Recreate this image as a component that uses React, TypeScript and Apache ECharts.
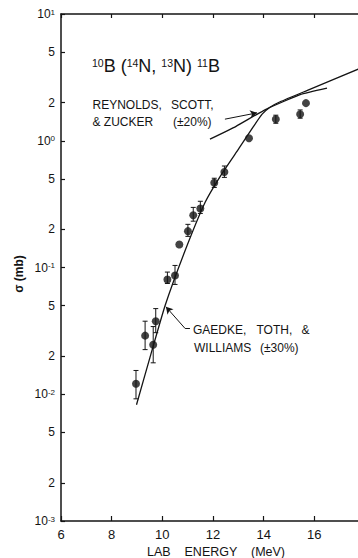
import React, { useEffect, useRef } from "react";
import * as echarts from "echarts";

// ---- data (lab energy in MeV, cross section in mb) ----
const xTickValues = [6, 8, 10, 12, 14, 16, 18];
const yDecadeExponents = [-3, -2, -1, 0, 1];
const yMinorMultipliers = [2, 5];

const energy = [8.96, 9.32, 9.64, 9.74, 10.2, 10.5, 10.67, 11.01, 11.22, 11.5, 12.05, 12.45, 13.42, 14.48, 15.44, 15.67];
const sigma = [0.0121, 0.029, 0.0246, 0.0377, 0.0803, 0.0865, 0.152, 0.1935, 0.258, 0.292, 0.467, 0.567, 1.047, 1.479, 1.62, 1.98];
const sigmaLow = [0.0092, 0.0225, 0.0177, 0.0306, 0.0748, 0.0735, 0.152, 0.176, 0.232, 0.267, 0.428, 0.514, 1.047, 1.374, 1.507, 1.98];
const sigmaHigh = [0.0154, 0.0377, 0.0342, 0.0474, 0.092, 0.1038, 0.152, 0.219, 0.298, 0.333, 0.506, 0.632, 1.047, 1.591, 1.75, 1.98];

// Gaedke, Toth & Williams calculation
const gaedkeEnergy = [8.98, 9.51, 10.11, 10.9, 11.69, 12.36, 13.03, 13.58, 13.94, 14.25, 14.65, 15.75, 17.73, 18.0];
const gaedkeSigma = [0.00826, 0.01945, 0.0501, 0.136, 0.327, 0.553, 0.873, 1.28, 1.62, 1.84, 2.03, 2.51, 3.67, 3.85];

// Reynolds, Scott & Zucker calculation
const reynoldsEnergy = [11.88, 12.91, 14.09, 15.44, 16.5];
const reynoldsSigma = [1.03, 1.3, 1.77, 2.31, 2.6];

// annotation leader lines
const gaedkeArrowEnergy = [11.09, 10.9, 10.14];
const gaedkeArrowSigma = [0.033, 0.033, 0.049];
const reynoldsArrowEnergy = [12.47, 13.74];
const reynoldsArrowSigma = [1.48, 1.66];

const lg = (v: number) => Math.log10(v);

const INK = "#141414";
const NUM_FONT = "'Liberation Sans', Arial, sans-serif";
const NOTE_FONT = "'Liberation Sans', Arial, sans-serif";

export default function App() {
  const ref = useRef<HTMLDivElement>(null);

  useEffect(() => {
    if (!ref.current) return;
    const chart = echarts.init(ref.current, null, { renderer: "svg" });

    const yTickValues: number[] = [];
    yDecadeExponents.forEach((d) => {
      yTickValues.push(d);
      if (d < yDecadeExponents[yDecadeExponents.length - 1]) {
        yMinorMultipliers.forEach((m) => yTickValues.push(d + lg(m)));
      }
    });

    const yLabel = (v: number) => {
      const d = Math.floor(v + 1e-6);
      const f = v - d;
      if (f < 0.01) return `{b|10}{e|${d}}`;
      return f < 0.5 ? "2" : "5";
    };

    const pts = energy.map((e, i) => [e, lg(sigma[i])]);
    const bars = energy.map((e, i) => [e, lg(sigmaLow[i]), lg(sigmaHigh[i])]);
    const gaedke = gaedkeEnergy.map((e, i) => [e, lg(gaedkeSigma[i])]);
    const reynolds = reynoldsEnergy.map((e, i) => [e, lg(reynoldsSigma[i])]);

    const seg = (xs: number[], ys: number[], i: number, arrow: boolean) => [
      { coord: [xs[i], lg(ys[i])], symbol: "none" },
      { coord: [xs[i + 1], lg(ys[i + 1])], symbol: arrow ? "arrow" : "none" },
    ];

    const noteText = (text: string, x: number, y: number) => ({
      type: "text",
      x,
      y,
      silent: true,
      style: {
        text,
        fill: INK,
        font: `12px ${NOTE_FONT}`,
        textAlign: "left",
        textVerticalAlign: "middle",
      },
    });

    const option: any = {
      animation: false,
      backgroundColor: "#ffffff",
      grid: { left: 61, top: 14, width: 304, height: 507, outerBoundsMode: "none" },
      xAxis: [
        {
          type: "value",
          min: 6,
          max: 18,
          interval: 2,
          position: "bottom",
          axisLine: { show: true, onZero: false, lineStyle: { color: INK, width: 1.5 } },
          axisTick: { show: true, inside: true, length: 5, customValues: xTickValues, lineStyle: { color: INK, width: 1.2 } },
          axisLabel: { show: true, customValues: xTickValues, margin: 7, color: INK, fontFamily: NUM_FONT, fontSize: 13 },
          splitLine: { show: false },
        },
        {
          type: "value",
          min: 6,
          max: 18,
          interval: 2,
          position: "top",
          axisLine: { show: true, onZero: false, lineStyle: { color: INK, width: 1.5 } },
          axisTick: { show: true, inside: true, length: 4, lineStyle: { color: INK, width: 1.2 } },
          axisLabel: { show: false },
          splitLine: { show: false },
        },
      ],
      yAxis: [
        {
          type: "value",
          min: -3,
          max: 1,
          position: "left",
          axisLine: { show: true, onZero: false, lineStyle: { color: INK, width: 1.5 } },
          axisTick: { show: true, inside: true, length: 4, customValues: yTickValues, lineStyle: { color: INK, width: 1.2 } },
          axisLabel: {
            show: true,
            customValues: yTickValues,
            margin: 6,
            color: INK,
            fontFamily: NUM_FONT,
            fontSize: 12,
            formatter: yLabel,
            rich: {
              b: { fontSize: 12, fontFamily: NUM_FONT, color: INK },
              e: { fontSize: 8, fontFamily: NUM_FONT, color: INK, verticalAlign: "top", padding: [0, 0, 4, 0] },
            },
          },
          splitLine: { show: false },
        },
        {
          type: "value",
          min: -3,
          max: 1,
          position: "right",
          axisLine: { show: true, onZero: false, lineStyle: { color: INK, width: 1.5 } },
          axisTick: { show: true, inside: true, length: 7, customValues: yTickValues, lineStyle: { color: INK, width: 1.2 } },
          axisLabel: { show: false },
          splitLine: { show: false },
        },
      ],
      series: [
        {
          name: "Gaedke, Toth & Williams",
          type: "line",
          data: gaedke,
          showSymbol: false,
          smooth: 0.15,
          lineStyle: { color: INK, width: 1.3 },
          z: 2,
          markLine: {
            silent: true,
            symbolSize: [6, 7],
            lineStyle: { color: INK, width: 1, type: "solid" },
            label: { show: false },
            emphasis: { disabled: true },
            data: [
              seg(gaedkeArrowEnergy, gaedkeArrowSigma, 0, false),
              seg(gaedkeArrowEnergy, gaedkeArrowSigma, 1, true),
              seg(reynoldsArrowEnergy, reynoldsArrowSigma, 0, true),
            ],
          },
        },
        {
          name: "Reynolds, Scott & Zucker",
          type: "line",
          data: reynolds,
          showSymbol: false,
          smooth: 0.15,
          lineStyle: { color: INK, width: 1.3 },
          z: 2,
        },
        {
          name: "error bars",
          type: "custom",
          data: bars,
          encode: { x: 0, y: [1, 2] },
          z: 3,
          renderItem: (params: any, api: any) => {
            const x = api.value(0);
            const lo = api.coord([x, api.value(1)]);
            const hi = api.coord([x, api.value(2)]);
            if (Math.abs(lo[1] - hi[1]) < 1) return { type: "group", children: [] };
            const w = 2.5;
            const st = { stroke: INK, lineWidth: 1 };
            return {
              type: "group",
              children: [
                { type: "line", shape: { x1: lo[0], y1: lo[1], x2: hi[0], y2: hi[1] }, style: st },
                { type: "line", shape: { x1: lo[0] - w, y1: lo[1], x2: lo[0] + w, y2: lo[1] }, style: st },
                { type: "line", shape: { x1: hi[0] - w, y1: hi[1], x2: hi[0] + w, y2: hi[1] }, style: st },
              ],
            };
          },
        },
        {
          name: "data",
          type: "scatter",
          data: pts,
          symbol: "circle",
          symbolSize: 8,
          itemStyle: { color: INK },
          z: 4,
        },
      ],
      graphic: [
        {
          type: "text",
          x: 92,
          y: 66,
          silent: true,
          style: {
            text: "{s|10}{m|B (}{s|14}{m|N, }{s|13}{m|N) }{s|11}{m|B}",
            textAlign: "left",
            textVerticalAlign: "middle",
            rich: {
              m: { fontSize: 18, fontFamily: NOTE_FONT, fill: INK },
              s: { fontSize: 10.5, fontFamily: NOTE_FONT, fill: INK, verticalAlign: "top" },
            },
          },
        },
        noteText("REYNOLDS,", 92.5, 105),
        noteText("SCOTT,", 171, 105),
        noteText("& ZUCKER", 92.5, 122),
        noteText("(±20%)", 173, 122),
        noteText("GAEDKE,", 193, 330),
        noteText("TOTH,", 256.5, 330),
        noteText("&", 301.5, 330),
        noteText("WILLIAMS", 194, 347.5),
        noteText("(±30%)", 260, 347.5),
        {
          type: "text",
          x: 147,
          y: 551.5,
          silent: true,
          style: {
            text: "LAB    ENERGY    (MeV)",
            fill: INK,
            font: `12.5px ${NUM_FONT}`,
            textAlign: "left",
            textVerticalAlign: "middle",
          },
        },
        {
          type: "text",
          x: 19,
          y: 274,
          rotation: Math.PI / 2,
          silent: true,
          style: {
            text: "σ (mb)",
            fill: INK,
            font: `bold 12px ${NUM_FONT}`,
            textAlign: "center",
            textVerticalAlign: "middle",
          },
        },
      ],
    };

    chart.setOption(option);
    return () => chart.dispose();
  }, []);

  return (
    <div
      style={{
        position: "absolute",
        left: 0,
        top: 0,
        width: 358,
        height: 558,
        overflow: "hidden",
        background: "#ffffff",
      }}
    >
      <div ref={ref} style={{ width: 380, height: 558 }} />
    </div>
  );
}
